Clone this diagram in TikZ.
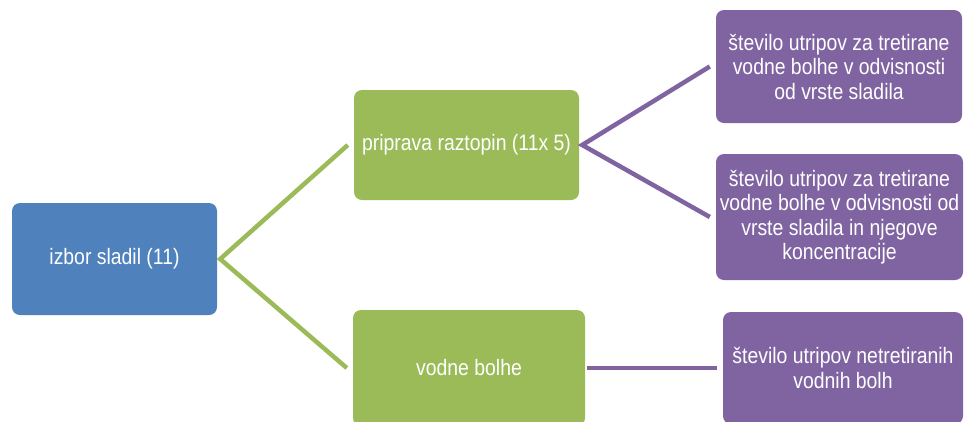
\documentclass[tikz,border=0pt]{standalone}
\usepackage{fontspec}
\setmainfont{Liberation Sans}[FakeStretch=0.87]
\definecolor{cblue}{HTML}{4F81BD}
\definecolor{cgreen}{HTML}{9BBB59}
\definecolor{cpurple}{HTML}{8064A2}
\begin{document}
\begin{tikzpicture}[x=1pt,y=-1pt,
  box/.style={rounded corners=8pt, text=white, align=center, inner sep=0pt,
    font=\fontsize{22.3}{24.5}\selectfont},
  bluebox/.style={box, fill=cblue},
  greenbox/.style={box, fill=cgreen},
  purplebox/.style={box, fill=cpurple},
  gline/.style={draw=cgreen, line width=4.5pt},
  pline/.style={draw=cpurple, line width=4.5pt}]
\clip (0,0) rectangle (965,421);
\fill[white] (0,0) rectangle (965,421);
\node[bluebox, minimum width=205pt, minimum height=112pt] (a) at (114.5,259) {izbor sladil (11)};
\node[greenbox, minimum width=225pt, minimum height=110pt] (b) at (466.5,145) {priprava raztopin (11x 5)};
\node[greenbox, minimum width=232pt, minimum height=116pt] (c) at (469,368) {vodne bolhe};
\node[purplebox, minimum width=246pt, minimum height=113pt] (d) at (839,66.5) {število utripov za tretirane\\vodne bolhe v odvisnosti\\od vrste sladila};
\node[purplebox, minimum width=247pt, minimum height=126pt] (e) at (839.5,217) {število utripov za tretirane\\vodne bolhe v odvisnosti od\\vrste sladila in njegove\\koncentracije};
\node[purplebox, minimum width=240pt, minimum height=112pt] (f) at (843,368) {število utripov netretiranih\\vodnih bolh};
\draw[gline] ([xshift=-6pt]b.west) -- ([xshift=3pt]a.east) -- ([xshift=-6pt]c.west);
\draw[pline] ([xshift=-6pt]d.west) -- ([xshift=3pt]b.east) -- ([xshift=-6pt]e.west);
\draw[pline] ([xshift=2pt]c.east) -- ([xshift=-6pt]f.west);
\end{tikzpicture}
\end{document}
